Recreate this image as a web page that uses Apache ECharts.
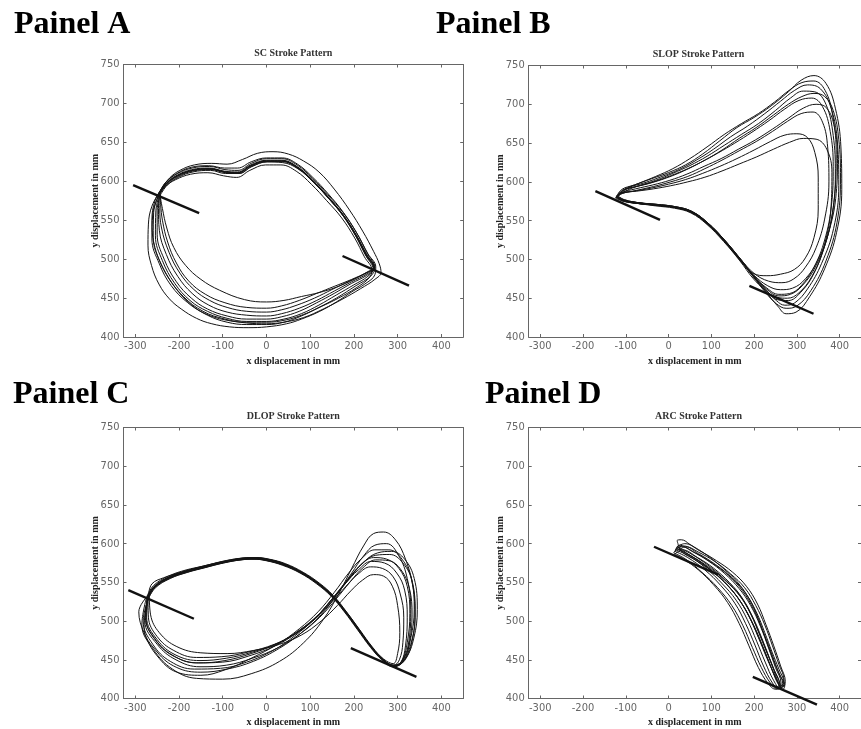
<!DOCTYPE html>
<html>
<head>
<meta charset="utf-8">
<script src="https://cdn.jsdelivr.net/npm/echarts@6/dist/echarts.min.js"></script>
<style>
html,body{margin:0;padding:0;background:#fff;}
#main{width:861px;height:729px;}
</style>
</head>
<body>
<div id="main"></div>
<script>
// tick labels
var xTicks = [-300, -200, -100, 0, 100, 200, 300, 400];
var yTicks = [400, 450, 500, 550, 600, 650, 700, 750];

var panelNames = ['Painel A', 'Painel B', 'Painel C', 'Painel D'];
var plotTitles = ['SC Stroke Pattern', 'SLOP Stroke Pattern', 'DLOP Stroke Pattern', 'ARC Stroke Pattern'];

// SC stroke loops (x, y in mm)
var scLoops = [
  [[-244,584],[-229,597],[-204,607],[-170,614],[-130,616],[-95,612],[-66,611],[-36,620],[0,626],[35,626],[70,618],[105,601],[140,580],[175,557],[205,531],[228,506],[246,489],[232,484],[200,474],[160,464],[120,457],[80,452],[40,447],[0,445],[-50,448],[-107,460],[-150,474],[-185,492],[-212,515],[-228,540],[-238,565],[-244,584]],
  [[-243,588],[-228,600],[-203,610],[-170,617],[-130,619],[-95,615],[-65,614],[-35,623],[0,629],[35,629],[70,621],[105,604],[140,583],[175,560],[207,533],[232,507],[250,490],[248,480],[225,468],[198,459],[160,445],[122,433],[80,423],[46,417],[0,413],[-42,412],[-84,413],[-125,417],[-160,424],[-195,436],[-222,449],[-246,468],[-263,492],[-271,518],[-270,545],[-262,568],[-243,588]],
  [[-245,585],[-230,599],[-205,610],[-172,618],[-132,620],[-96,617],[-66,617],[-35,625],[0,630],[36,630],[71,622],[106,605],[141,584],[176,560],[206,534],[230,508],[248,489],[238,478],[205,466],[160,450],[120,438],[80,427],[40,419],[0,416],[-45,416],[-90,419],[-135,428],[-175,443],[-212,466],[-242,495],[-259,528],[-258,560],[-245,585]],
  [[-244,584],[-228,596],[-203,606],[-169,613],[-129,615],[-94,611],[-64,610],[-34,619],[1,625],[36,625],[71,617],[106,600],[141,579],[175,556],[204,530],[227,505],[245,488],[232,478],[200,467],[160,454],[120,441],[80,430],[40,423],[0,420],[-45,420],[-90,424],[-135,433],[-175,447],[-210,469],[-238,498],[-254,530],[-253,562],[-244,584]],
  [[-242,583],[-227,595],[-202,605],[-168,612],[-128,614],[-94,610],[-63,610],[-33,619],[2,625],[37,624],[72,616],[107,599],[142,578],[176,555],[205,529],[228,504],[244,487],[229,479],[195,469],[155,456],[115,444],[75,433],[35,426],[0,423],[-45,423],[-90,427],[-135,436],[-172,450],[-206,471],[-234,500],[-250,532],[-250,563],[-242,583]],
  [[-245,586],[-229,598],[-204,608],[-171,615],[-131,617],[-96,613],[-66,612],[-36,621],[0,627],[35,627],[70,619],[105,602],[140,581],[174,558],[204,532],[228,507],[247,489],[230,481],[195,471],[155,459],[115,447],[75,437],[35,430],[0,427],[-45,428],[-90,432],[-132,441],[-170,456],[-203,478],[-229,506],[-245,537],[-247,565],[-245,586]],
  [[-243,584],[-228,597],[-203,607],[-170,614],[-130,616],[-95,612],[-65,611],[-35,620],[0,626],[35,626],[70,618],[105,601],[139,580],[174,557],[204,531],[227,506],[246,489],[228,482],[190,472],[150,461],[110,450],[70,441],[35,435],[0,432],[-45,433],[-90,438],[-130,447],[-166,461],[-198,482],[-223,509],[-240,540],[-244,566],[-243,584]],
  [[-244,585],[-229,597],[-204,607],[-170,614],[-130,616],[-95,612],[-65,611],[-35,620],[0,626],[35,626],[70,618],[105,601],[140,580],[175,557],[205,531],[229,506],[247,489],[230,483],[195,474],[155,465],[115,456],[75,447],[35,440],[0,437],[-45,438],[-95,444],[-140,455],[-178,472],[-206,495],[-226,522],[-238,550],[-242,570],[-244,585]],
  [[-240,590],[-222,604],[-198,614],[-165,621],[-125,623],[-90,622],[-55,628],[-20,636],[15,638],[50,635],[85,626],[120,612],[155,590],[190,563],[220,536],[245,510],[258,494],[262,483],[248,474],[215,462],[175,449],[130,436],[85,425],[40,419],[0,417],[-45,418],[-95,423],[-145,433],[-190,452],[-228,480],[-255,515],[-262,550],[-255,575],[-240,590]],
  [[-246,582],[-232,593],[-208,602],[-174,609],[-134,611],[-98,607],[-68,605],[-38,614],[-2,621],[33,621],[68,613],[103,596],[138,575],[172,553],[202,527],[224,503],[241,486],[235,476],[205,463],[165,450],[125,439],[85,429],[45,422],[0,419],[-45,419],[-95,422],[-140,430],[-180,444],[-218,466],[-245,494],[-262,526],[-260,558],[-246,582]]
];

// SLOP stroke loops
var slopLoops = [
  [[-122,580],[-105,575],[-70,572],[-30,570],[15,567],[53,561],[91,546],[130,524],[168,499],[198,478],[228,458],[255,440],[275,430],[298,432],[330,452],[365,488],[393,535],[405,590],[403,645],[390,695],[368,727],[340,737],[310,731],[280,716],[240,698],[200,683],[160,670],[120,653],[80,636],[40,622],[0,612],[-40,604],[-80,596],[-110,590],[-122,580]],
  [[-120,581],[-104,576],[-68,573],[-28,571],[15,568],[54,562],[92,547],[131,525],[168,500],[198,479],[228,461],[252,447],[272,441],[295,444],[325,462],[358,495],[386,540],[398,595],[395,650],[380,695],[355,720],[325,725],[295,718],[262,704],[225,688],[185,672],[145,658],[105,642],[65,628],[25,616],[-15,607],[-55,599],[-95,592],[-120,581]],
  [[-124,579],[-106,575],[-70,572],[-30,569],[14,566],[52,560],[90,545],[129,523],[167,498],[197,476],[227,460],[254,451],[278,450],[305,457],[335,478],[362,512],[383,560],[390,610],[385,660],[368,700],[342,716],[315,717],[285,708],[250,692],[210,675],[170,661],[130,647],[90,633],[50,621],[10,611],[-30,602],[-70,595],[-105,589],[-124,579]],
  [[-121,582],[-104,577],[-69,573],[-29,571],[16,568],[54,562],[92,547],[131,525],[169,500],[199,479],[230,463],[258,455],[283,456],[310,466],[340,490],[365,525],[381,570],[385,620],[378,665],[360,697],[335,708],[305,705],[272,694],[235,679],[195,664],[155,650],[115,637],[75,625],[35,614],[-5,605],[-45,598],[-85,592],[-121,582]],
  [[-123,580],[-105,576],[-70,572],[-30,570],[15,567],[53,561],[91,546],[130,524],[168,499],[199,480],[232,466],[262,461],[290,463],[320,475],[350,500],[377,540],[392,585],[395,630],[388,670],[370,695],[345,700],[315,695],[280,682],[243,668],[203,654],[163,642],[123,630],[83,620],[43,610],[3,602],[-37,596],[-77,591],[-110,586],[-123,580]],
  [[-120,580],[-103,575],[-68,572],[-28,570],[16,567],[54,561],[92,546],[131,524],[169,500],[200,482],[234,472],[265,470],[293,475],[320,490],[345,515],[365,552],[375,600],[372,645],[360,677],[338,690],[310,688],[278,678],[243,665],[205,652],[165,640],[125,628],[85,617],[45,607],[5,600],[-35,594],[-75,589],[-108,585],[-120,580]],
  [[-122,581],[-105,576],[-70,573],[-30,570],[15,567],[53,561],[91,546],[130,524],[168,499],[198,482],[230,479],[262,481],[294,487],[320,502],[340,528],[350,565],[350,605],[342,638],[325,657],[300,662],[270,660],[238,652],[200,641],[160,630],[120,620],[80,611],[40,603],[0,597],[-40,592],[-80,588],[-110,585],[-122,581]],
  [[-123,581],[-106,576],[-70,572],[-30,570],[14,567],[52,561],[90,546],[129,524],[167,499],[198,478],[228,460],[255,448],[280,447],[308,457],[340,482],[365,520],[380,568],[382,612],[370,642],[345,655],[315,656],[283,651],[245,642],[205,632],[165,623],[125,614],[85,606],[45,600],[5,595],[-35,591],[-75,588],[-108,586],[-123,581]],
  [[-121,581],[-104,576],[-69,573],[-29,570],[15,567],[53,561],[91,546],[130,524],[168,499],[198,478],[226,458],[252,443],[275,437],[300,440],[333,460],[368,498],[394,548],[402,605],[398,655],[385,692],[365,710],[340,714],[312,710],[280,700],[245,686],[205,670],[165,656],[125,641],[85,628],[45,617],[5,608],[-35,600],[-75,594],[-108,589],[-121,581]],
  [[-119,582],[-103,577],[-68,573],[-28,571],[16,568],[54,562],[92,547],[131,525],[169,500],[199,479],[229,462],[258,453],[285,455],[314,467],[345,492],[372,530],[388,580],[392,635],[384,685],[366,718],[340,730],[312,728],[282,718],[248,703],[210,688],[170,675],[130,661],[90,645],[50,630],[10,617],[-30,607],[-70,598],[-105,590],[-119,582]]
];

// DLOP stroke loops
var dlopLoops = [
  [[-272,530],[-256,544],[-222,556],[-182,564],[-142,570],[-100,576],[-60,580],[-28,581],[2,579],[40,573],[80,562],[118,548],[150,532],[180,512],[210,489],[240,466],[266,450],[292,442],[310,449],[322,472],[328,510],[322,545],[303,568],[275,580],[245,582],[215,572],[185,553],[152,530],[115,506],[70,485],[20,468],[-40,455],[-100,447],[-160,446],[-215,456],[-255,477],[-277,505],[-272,530]],
  [[-274,531],[-258,546],[-224,558],[-184,566],[-144,571],[-102,577],[-62,581],[-30,582],[0,580],[38,574],[78,564],[116,550],[149,534],[179,514],[209,491],[239,468],[265,451],[292,443],[314,451],[330,478],[338,515],[332,553],[310,580],[280,592],[248,592],[218,581],[188,562],[155,537],[118,512],[75,490],[25,470],[-35,452],[-95,437],[-150,430],[-205,434],[-250,455],[-280,485],[-292,512],[-274,531]],
  [[-270,529],[-254,543],[-220,555],[-180,563],[-140,569],[-98,575],[-58,579],[-26,580],[4,578],[42,572],[82,561],[120,547],[152,531],[182,511],[212,488],[242,465],[268,449],[293,441],[308,447],[318,468],[322,505],[316,540],[298,562],[270,575],[240,577],[210,566],[180,548],[148,527],[110,503],[65,481],[15,462],[-45,447],[-105,439],[-165,438],[-220,448],[-260,470],[-282,500],[-270,529]],
  [[-273,530],[-257,545],[-223,557],[-183,565],[-143,570],[-101,576],[-61,580],[-29,581],[1,579],[39,573],[79,563],[117,549],[150,533],[180,513],[210,490],[240,467],[266,451],[292,442],[316,449],[333,474],[340,512],[334,550],[312,575],[282,586],[250,585],[220,575],[190,556],[157,533],[120,509],[75,488],[25,471],[-35,458],[-95,449],[-155,446],[-210,454],[-252,474],[-275,502],[-273,530]],
  [[-271,531],[-255,545],[-221,557],[-181,565],[-141,571],[-99,577],[-59,581],[-27,582],[3,580],[41,574],[81,563],[119,549],[151,533],[181,513],[211,490],[241,466],[267,450],[291,443],[304,450],[312,472],[314,505],[306,535],[290,557],[265,568],[238,570],[210,561],[182,545],[150,525],[112,503],[68,484],[18,470],[-42,460],[-102,454],[-160,453],[-212,462],[-250,480],[-270,505],[-271,531]],
  [[-268,532],[-252,546],[-218,558],[-178,566],[-138,572],[-96,577],[-56,581],[-24,582],[6,580],[44,574],[84,563],[121,549],[153,533],[183,512],[213,489],[243,466],[268,451],[290,445],[300,458],[305,485],[300,520],[288,545],[268,558],[245,560],[220,553],[193,539],[162,520],[125,500],[80,482],[30,470],[-30,462],[-90,458],[-150,459],[-205,467],[-245,485],[-265,508],[-268,532]],
  [[-275,529],[-259,543],[-225,555],[-185,563],[-145,569],[-103,575],[-63,579],[-31,580],[-1,578],[37,572],[77,562],[115,548],[148,532],[178,512],[208,489],[238,466],[264,450],[290,441],[312,447],[330,470],[340,505],[335,545],[318,580],[295,605],[268,615],[245,613],[222,597],[195,568],[165,535],[130,502],[85,472],[30,448],[-35,432],[-100,425],[-160,426],[-215,438],[-258,463],[-285,495],[-275,529]],
  [[-272,529],[-256,543],[-222,555],[-182,563],[-142,569],[-100,575],[-60,579],[-28,580],[2,578],[40,572],[80,562],[118,548],[150,532],[180,512],[210,489],[240,466],[266,450],[292,442],[312,450],[326,475],[330,515],[322,555],[302,585],[275,600],[248,598],[222,584],[195,562],[162,535],[125,508],[80,485],[30,465],[-30,448],[-90,438],[-150,434],[-205,440],[-250,460],[-280,492],[-272,529]],
  [[-270,533],[-262,548],[-235,556],[-200,562],[-160,567],[-118,573],[-78,578],[-40,581],[-5,580],[35,575],[75,564],[114,550],[147,534],[178,513],[208,490],[238,467],[264,451],[290,443],[318,452],[337,478],[345,515],[338,555],[316,580],[286,590],[254,588],[224,577],[194,558],[160,534],[122,509],[78,489],[28,472],[-32,460],[-92,452],[-152,449],[-207,456],[-250,476],[-274,505],[-270,533]],
  [[-272,530],[-257,544],[-223,556],[-183,564],[-143,570],[-101,576],[-61,580],[-29,581],[1,579],[39,573],[79,563],[117,549],[150,533],[180,513],[210,490],[240,467],[266,451],[292,442],[313,448],[327,472],[333,508],[327,542],[308,566],[280,578],[250,579],[221,569],[192,551],[160,529],[122,505],[78,484],[28,466],[-32,452],[-92,443],[-152,441],[-207,450],[-250,470],[-278,500],[-272,530]]
];

// ARC stroke loops
var arcLoops = [
  [[18,594],[50,585],[90,570],[130,551],[162,530],[188,506],[210,479],[230,452],[250,428],[265,414],[270,420],[258,438],[242,460],[225,485],[205,512],[180,536],[148,556],[110,573],[70,587],[35,597],[18,594]],
  [[15,590],[45,582],[85,566],[122,546],[155,523],[180,497],[202,469],[222,442],[243,420],[258,412],[263,420],[250,440],[234,465],[215,493],[192,520],[165,542],[130,562],[92,578],[55,590],[25,598],[15,590]],
  [[20,596],[55,586],[95,571],[135,552],[167,533],[193,508],[214,481],[234,454],[254,428],[268,415],[273,422],[262,442],[246,468],[228,495],[208,522],[182,545],[150,563],[112,578],[72,591],[38,600],[20,596]],
  [[12,588],[40,580],[78,563],[115,543],[148,520],[174,494],[196,466],[217,440],[238,420],[254,412],[260,418],[247,437],[230,460],[210,487],[188,514],[160,537],[125,556],[88,572],[50,585],[22,593],[12,588]],
  [[22,600],[20,604],[30,605],[50,599],[90,585],[130,567],[160,551],[185,532],[205,510],[225,480],[245,450],[262,428],[272,418],[268,412],[255,420],[240,440],[220,468],[198,496],[172,522],[140,545],[105,563],[65,578],[30,590],[22,600]],
  [[16,592],[48,584],[88,568],[126,548],[158,527],[184,502],[206,474],[226,447],[246,423],[261,413],[267,419],[255,437],[239,461],[220,488],[199,515],[173,539],[140,559],[102,575],[63,588],[30,596],[16,592]],
  [[25,592],[58,582],[98,566],[136,547],[166,527],[191,503],[212,477],[232,451],[251,426],[264,416],[270,424],[258,444],[243,468],[225,495],[204,520],[178,543],[145,561],[108,577],[70,589],[40,596],[25,592]],
  [[14,586],[35,580],[70,566],[105,547],[138,524],[165,497],[188,468],[210,440],[232,420],[250,412],[258,416],[250,430],[236,452],[218,478],[197,505],[172,530],[142,550],[106,568],[68,582],[32,592],[14,586]]
];

// thick reference lines
var scMarks = [[[-305,595],[-154,559]], [[174,504],[326,466]]];
var slopMarks = [[[-171,588],[-20,551]], [[189,466],[339,430]]];
var dlopMarks = [[[-316,540],[-166,503]], [[193,465],[343,428]]];
var arcMarks = [[[-34,596],[116,560]], [[197,428],[347,392]]];

var panelLoops = [scLoops, slopLoops, dlopLoops, arcLoops];
var panelMarks = [scMarks, slopMarks, dlopMarks, arcMarks];

var myChart = echarts.init(document.getElementById('main'));

var boxes = [
  {left: 123.5, top: 64.5, width: 339.7, height: 272.5},
  {left: 528.7, top: 65.5, width: 339.7, height: 271.5},
  {left: 123.5, top: 427.5, width: 339.7, height: 271},
  {left: 528.7, top: 427.5, width: 339.7, height: 271}
];

var labelFont = "'Liberation Sans Narrow', 'DejaVu Sans Condensed', sans-serif";
var serif = "'Liberation Serif', 'DejaVu Serif', serif";
var lineCol = '#666';

var xAxes = [], yAxes = [], series = [], graphics = [];

for (var i = 0; i < 4; i++) {
  xAxes.push({
    gridIndex: i, type: 'value', position: 'bottom', min: -327, max: 450,
    name: 'x displacement in mm', nameLocation: 'middle', nameGap: 19,
    nameTextStyle: {fontFamily: serif, fontWeight: 'bold', fontSize: 10, color: '#222'},
    axisLine: {show: true, onZero: false, lineStyle: {color: lineCol, width: 1}},
    axisTick: {show: true, inside: true, length: 3, customValues: xTicks, lineStyle: {color: lineCol}},
    axisLabel: {customValues: xTicks, fontFamily: labelFont, fontSize: 11, color: '#666', margin: 4},
    splitLine: {show: false}
  });
  xAxes.push({
    gridIndex: i, type: 'value', position: 'top', min: -327, max: 450,
    axisLine: {show: true, onZero: false, lineStyle: {color: lineCol, width: 1}},
    axisTick: {show: true, inside: true, length: 3, customValues: xTicks, lineStyle: {color: lineCol}},
    axisLabel: {show: false},
    splitLine: {show: false}
  });
  yAxes.push({
    gridIndex: i, type: 'value', position: 'left', min: 400, max: 750, interval: 50,
    name: 'y displacement in mm', nameLocation: 'middle', nameGap: 23, nameMoveOverlap: false,
    nameTextStyle: {fontFamily: serif, fontWeight: 'bold', fontSize: 10, color: '#222'},
    axisLine: {show: true, onZero: false, lineStyle: {color: lineCol, width: 1}},
    axisTick: {show: true, inside: true, length: 3, lineStyle: {color: lineCol}},
    axisLabel: {fontFamily: labelFont, fontSize: 11, color: '#666', margin: 4},
    splitLine: {show: false}
  });
  yAxes.push({
    gridIndex: i, type: 'value', position: 'right', min: 400, max: 750, interval: 50,
    axisLine: {show: true, onZero: false, lineStyle: {color: lineCol, width: 1}},
    axisTick: {show: true, inside: true, length: 3, lineStyle: {color: lineCol}},
    axisLabel: {show: false},
    splitLine: {show: false}
  });

  var loops = panelLoops[i];
  for (var k = 0; k < loops.length; k++) {
    series.push({
      type: 'line', xAxisIndex: 2 * i, yAxisIndex: 2 * i,
      data: loops[k], showSymbol: false, symbol: 'none', smooth: 0.4,
      silent: true,
      lineStyle: {color: '#141414', width: 1}
    });
  }
  var marks = panelMarks[i];
  for (var m = 0; m < marks.length; m++) {
    series.push({
      type: 'line', xAxisIndex: 2 * i, yAxisIndex: 2 * i,
      data: marks[m], showSymbol: false, symbol: 'none', clip: false,
      silent: true, z: 5,
      lineStyle: {color: '#111', width: 2.4}
    });
  }

  var b = boxes[i];
  graphics.push({
    type: 'text', x: b.left + b.width / 2, y: b.top - 11,
    style: {text: plotTitles[i], font: 'bold 10px ' + serif, fill: '#333', textAlign: 'center', textVerticalAlign: 'middle'}
  });
}

var panelPos = [[14, 24.5], [436, 24.5], [13, 394.5], [485, 394.5]];
for (var p = 0; p < 4; p++) {
  graphics.push({
    type: 'text', x: panelPos[p][0], y: panelPos[p][1],
    style: {text: panelNames[p], font: 'bold 32px ' + serif, fill: '#000', textAlign: 'left', textVerticalAlign: 'middle'}
  });
}

var option = {
  animation: false,
  backgroundColor: '#fff',
  grid: boxes.map(function (b) { return {left: b.left, top: b.top, width: b.width, height: b.height, containLabel: false}; }),
  xAxis: xAxes,
  yAxis: yAxes,
  series: series,
  graphic: graphics
};

myChart.setOption(option);
window.onresize = myChart.resize;
</script>
</body>
</html>
